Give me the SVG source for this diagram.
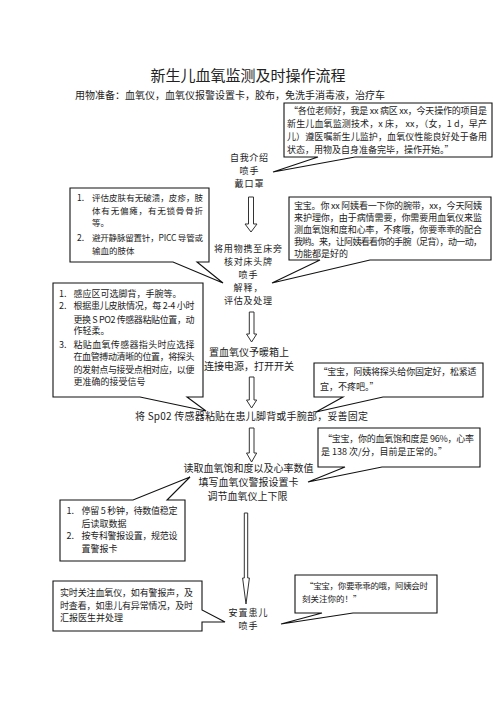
<svg xmlns="http://www.w3.org/2000/svg" width="496" height="702" viewBox="0 0 496 702">
<style>
text{font-family:"Noto Sans CJK SC","Liberation Sans",sans-serif;fill:#222}
.t{font-size:15px}
.s{font-size:10px}
.f{font-size:10px;text-anchor:middle}
.g{font-size:9px;text-anchor:middle}
.c{font-size:9px}
.cs{font-size:8.5px}
.box{fill:#fff;stroke:#111;stroke-width:1.1}
.arr{fill:#fff;stroke:#333;stroke-width:1}
</style>
<rect width="496" height="702" fill="#fff"/>
<g id="header">
<text class="t" x="248" y="81" text-anchor="middle">新生儿血氧监测及时操作流程</text>
<text class="s" x="75" y="99" textLength="310">用物准备：血氧仪，血氧仪报警设置卡，胶布，免洗手消毒液，治疗车</text>
</g>
<g id="connectors">
<path class="arr" d="M248.5,197 V224 H245 L251,232 L257,224 H253.5 V197 Z"/>
<path class="arr" d="M249.3,312 V334 H246.5 L251.6,342 L256.7,334 H254 V312 Z"/>
<path class="arr" d="M249.3,377 V400 H246.5 L251.6,408 L256.7,400 H254 V377 Z"/>
<path class="arr" d="M249.3,428 V453 H246.5 L251.6,462 L256.7,453 H254 V428 Z"/>
<path class="arr" d="M244.3,513 V578 H242.6 L246,604 L249.4,578 H247.7 V513 Z"/>
</g>
<g id="step1">
<text class="g" x="249" y="160.5" textLength="38">自我介绍</text>
<text class="g" x="249" y="173.5" textLength="19">喷手</text>
<text class="g" x="249" y="186.5" textLength="29">戴口罩</text>
</g>
<g id="step2">
<text class="g" x="248" y="251.5" textLength="68">将用物携至床旁</text>
<text class="g" x="248" y="264.5" textLength="48">核对床头牌</text>
<text class="g" x="248" y="277.5" textLength="19">喷手</text>
<text class="g" x="248" y="290.5" textLength="29">解释，</text>
<text class="g" x="248" y="303.5" textLength="48">评估及处理</text>
</g>
<g id="step3">
<text class="f" x="249" y="356">置血氧仪予暖箱上</text>
<text class="f" x="249" y="370">连接电源，打开开关</text>
</g>
<g id="step4">
<text class="s" x="135" y="420" textLength="233">将 Sp02 传感器粘贴在患儿脚背或手腕部，妥善固定</text>
</g>
<g id="step5">
<text class="f" x="248.5" y="472">读取血氧饱和度以及心率数值</text>
<text class="f" x="248.5" y="486">填写血氧仪警报设置卡</text>
<text class="f" x="247.5" y="500">调节血氧仪上下限</text>
</g>
<g id="step6">
<text class="g" x="248" y="616" textLength="39">安置患儿</text>
<text class="g" x="248" y="629" textLength="19">喷手</text>
</g>
<g id="note-intro">
<path class="box" d="M284,103 H492 V157 H355 L273,172 L318,157 H284 Z"/>
<text class="c" x="289" y="114" textLength="198">“各位老师好，我是 xx 病区 xx，今天操作的项目是</text>
<text class="c" x="287" y="127" textLength="200">新生儿血氧监测技术，x 床，  xx，（女，1 d，早产</text>
<text class="c" x="287" y="140" textLength="200">儿）遵医嘱新生儿监护，血氧仪性能良好处于备用</text>
<text class="c" x="287" y="153">状态，用物及自身准备完毕，操作开始。”</text>
</g>
<g id="note-assess">
<path class="box" d="M70,188 H209 V262 H197 L223,283 L173,262 H70 Z"/>
<text class="cs" x="77" y="201">1.</text>
<text class="cs" x="92" y="201" textLength="111">评估皮肤有无破溃，皮疹，肢</text>
<text class="cs" x="92" y="214" textLength="111">体有无偏瘫，有无锁骨骨折</text>
<text class="cs" x="92" y="226">等。</text>
<text class="cs" x="77" y="240.5">2.</text>
<text class="cs" x="92" y="240.5" textLength="111">避开静脉留置针，PICC 导管或</text>
<text class="cs" x="92" y="253.5">输血的肢体</text>
</g>
<g id="note-talk1">
<path class="box" d="M289,197 H491 V260 H370 L272,283 L320,260 H289 Z"/>
<text class="c" x="294" y="209" textLength="188">宝宝。你 xx 阿姨看一下你的腕带，xx，今天阿姨</text>
<text class="c" x="294" y="221" textLength="188">来护理你，由于病情需要，你需要用血氧仪来监</text>
<text class="c" x="294" y="233" textLength="188">测血氧饱和度和心率，不疼哦，你要乖乖的配合</text>
<text class="c" x="294" y="245" textLength="188">我哟。来，让阿姨看看你的手腕（足背），动一动，</text>
<text class="c" x="294" y="257">功能都是好的</text>
</g>
<g id="note-sensor">
<path class="box" d="M53,283 H203 V397 H187 L206,411 L140,397 H53 Z"/>
<text class="c" x="59" y="296.5">1.</text>
<text class="c" x="73.5" y="296.5">感应区可选脚背，手腕等。</text>
<text class="c" x="59" y="308.5">2.</text>
<text class="c" x="73.5" y="308.5" textLength="121">根据患儿皮肤情况，每 2-4 小时</text>
<text class="c" x="73.5" y="322.5" textLength="121">更换 S PO2 传感器粘贴位置，动</text>
<text class="c" x="73.5" y="334">作轻柔。</text>
<text class="c" x="59" y="347.5">3.</text>
<text class="c" x="73.5" y="347.5" textLength="121">粘贴血氧传感器指头时应选择</text>
<text class="c" x="73.5" y="360" textLength="121">在血管搏动清晰的位置，将探头</text>
<text class="c" x="73.5" y="372.5" textLength="121">的发射点与接受点相对应，以便</text>
<text class="c" x="73.5" y="385">更准确的接受信号</text>
</g>
<g id="note-talk2">
<path class="box" d="M314,363 H483 V397 H383 L316,412 L343,397 H314 Z"/>
<text class="c" x="318.5" y="375" textLength="158">“宝宝，阿姨将探头给你固定好，松紧适</text>
<text class="c" x="320" y="389.5">宜，不疼吧。”</text>
</g>
<g id="note-talk3">
<path class="box" d="M318,428 H480 V467 H382 L308,482 L345,467 H318 Z"/>
<text class="c" x="323" y="441.5" textLength="151">“宝宝，你的血氧饱和度是 96%，心率</text>
<text class="c" x="321" y="455">是 138 次/分，目前是正常的。”</text>
</g>
<g id="note-read">
<path class="box" d="M60,500 H133 L190,477 L167,500 H185 V561 H60 Z"/>
<text class="c" x="66.5" y="514">1.</text>
<text class="c" x="81.5" y="514" textLength="96">停留 5 秒钟，待数值稳定</text>
<text class="c" x="81.5" y="526.5">后读取数据</text>
<text class="c" x="66.5" y="539">2.</text>
<text class="c" x="81.5" y="539" textLength="96">按专科警报设置，规范设</text>
<text class="c" x="81.5" y="551.5">置警报卡</text>
</g>
<g id="note-watch">
<path class="box" d="M53,581 H202 V610 L225,622 H202 V631 H53 Z"/>
<text class="c" x="60" y="596" textLength="133">实时关注血氧仪，如有警报声，及</text>
<text class="c" x="60" y="608.5" textLength="133">时查看，如患儿有异常情况，及时</text>
<text class="c" x="60" y="621">汇报医生并处理</text>
</g>
<g id="note-talk4">
<path class="box" d="M295,575 H437 V613 H353 L281,624 L322,613 H295 Z"/>
<text class="cs" x="305" y="588.5" textLength="123">“宝宝，你要乖乖的哦，阿姨会时</text>
<text class="cs" x="302" y="601.5">刻关注你的！”</text>
</g>
</svg>
